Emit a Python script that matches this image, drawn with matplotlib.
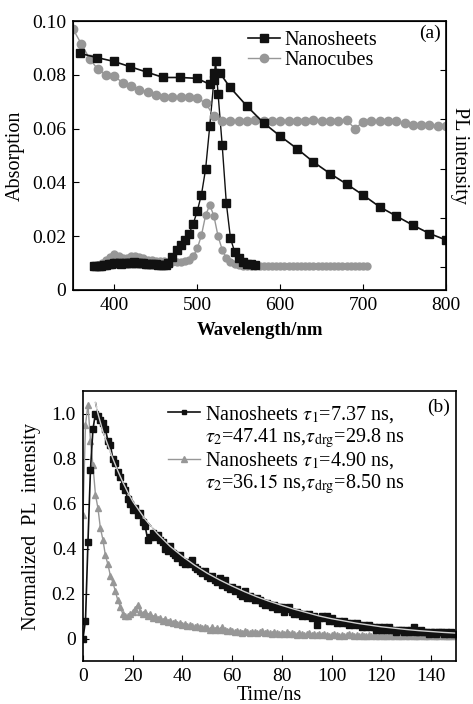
import matplotlib
matplotlib.use("Agg")
import matplotlib.pyplot as plt
from matplotlib.lines import Line2D

plt.rcParams['font.family'] = ['Liberation Serif', 'DejaVu Serif']
plt.rcParams['mathtext.fontset'] = 'stix'

# ---------------- panel (a) data ----------------
abs_sheet_wl = [358, 379, 399, 419, 439, 459, 479, 499, 515, 520, 527, 539, 560, 580, 600, 620,
                640, 660, 680, 700, 720, 740, 760, 780, 800]
abs_sheet = [0.088, 0.0864, 0.085, 0.083, 0.081, 0.079, 0.079, 0.0787, 0.0765, 0.0808, 0.0808, 0.0755,
             0.0683, 0.0621, 0.0572, 0.0526, 0.0476, 0.0433, 0.0394, 0.0353, 0.0309, 0.0275, 0.0241,
             0.021, 0.0186]

abs_cube_wl = list(range(350, 801, 10))
abs_cube = [0.097, 0.0915, 0.086, 0.082, 0.080, 0.0795, 0.077, 0.0757, 0.0745, 0.0736,
            0.0724, 0.0718, 0.0718, 0.0718, 0.0718, 0.0713, 0.0695, 0.0645, 0.063, 0.0628,
            0.063, 0.063, 0.0632, 0.063, 0.063, 0.063, 0.063, 0.063, 0.063, 0.0632,
            0.063, 0.063, 0.063, 0.0632, 0.0600, 0.0625, 0.0628, 0.0628, 0.0628, 0.0628,
            0.062, 0.0615, 0.0615, 0.0615, 0.061, 0.061]

pl_sheet_wl = [375, 378, 381, 384, 387, 390, 393, 396, 399, 402, 405, 408, 411, 414, 417, 420, 423,
               426, 429, 432, 435, 438, 441, 444, 447, 450, 453, 456, 459, 462, 465, 470, 475, 480,
               485, 490, 495, 500, 505, 510, 515, 520, 522, 525, 530, 535, 540, 545, 550, 555, 560,
               565, 570]
pl_sheet = [0.0090, 0.0090, 0.0090, 0.0091, 0.0092, 0.0093, 0.0095, 0.0097, 0.0099, 0.0100, 0.0099,
            0.0098, 0.0099, 0.0100, 0.0101, 0.0102, 0.0103, 0.0102, 0.0101, 0.0100, 0.0099, 0.0098,
            0.0097, 0.0096, 0.0095, 0.0095, 0.0094, 0.0093, 0.0093, 0.0094, 0.0100, 0.0122, 0.0148,
            0.0168, 0.0185, 0.0210, 0.0245, 0.0295, 0.0355, 0.0450, 0.0610, 0.0780, 0.0850, 0.0730,
            0.0538, 0.0322, 0.0192, 0.0142, 0.0118, 0.0105, 0.0098, 0.0095, 0.0094]

pl_cube_wl = list(range(375, 706, 5))
pl_cube = [0.0088, 0.0092, 0.0100, 0.0112, 0.0124, 0.0132, 0.0128, 0.0120, 0.0120, 0.0126, 0.0128,
           0.0124, 0.0118, 0.0113, 0.0110, 0.0108, 0.0107, 0.0106, 0.0105, 0.0104, 0.0104, 0.0104,
           0.0106, 0.0112, 0.0125, 0.0155, 0.0204, 0.0278, 0.0316, 0.0275, 0.0200, 0.0150, 0.0118,
           0.0104, 0.0097, 0.0093, 0.0090, 0.0089, 0.0088, 0.0088, 0.0088, 0.0088, 0.0088, 0.0088,
           0.0088, 0.0088, 0.0088, 0.0088, 0.0088, 0.0088, 0.0088, 0.0088, 0.0088, 0.0088, 0.0088,
           0.0088, 0.0088, 0.0088, 0.0088, 0.0088, 0.0088, 0.0088, 0.0088, 0.0088, 0.0088, 0.0088,
           0.0088]

abs_yticks = [0, 0.02, 0.04, 0.06, 0.08, 0.10]
abs_yticklabels = ['0', '0.02', '0.04', '0.06', '0.08', '0.10']
wl_ticks = [400, 500, 600, 700, 800]

# ---------------- panel (b) data ----------------
t_sheet = list(range(0, 151))
pl_decay_sheet = [0.00, 0.08, 0.43, 0.75, 0.93, 1.00, 0.99, 0.97, 0.96, 0.93,
                  0.88, 0.86, 0.80, 0.78, 0.74, 0.72, 0.68, 0.66, 0.62, 0.60,
                  0.57, 0.58, 0.55, 0.56, 0.52, 0.50, 0.44, 0.45, 0.47, 0.45,
                  0.46, 0.44, 0.43, 0.40, 0.39, 0.41, 0.38, 0.37, 0.36, 0.37,
                  0.34, 0.33, 0.34, 0.33, 0.35, 0.32, 0.31, 0.30, 0.29, 0.30,
                  0.28, 0.27, 0.28, 0.26, 0.25, 0.27, 0.24, 0.26, 0.23, 0.22,
                  0.23, 0.21, 0.22, 0.20, 0.19, 0.21, 0.18, 0.19, 0.18, 0.17,
                  0.18, 0.17, 0.16, 0.15, 0.16, 0.15, 0.14, 0.15, 0.13, 0.14,
                  0.14, 0.12, 0.13, 0.14, 0.12, 0.11, 0.12, 0.11, 0.10, 0.11,
                  0.10, 0.11, 0.09, 0.10, 0.06, 0.09, 0.10, 0.09, 0.10, 0.08,
                  0.09, 0.08, 0.07, 0.08, 0.07, 0.08, 0.07, 0.06, 0.07, 0.06,
                  0.07, 0.06, 0.05, 0.06, 0.05, 0.06, 0.05, 0.05, 0.04, 0.05,
                  0.04, 0.05, 0.04, 0.05, 0.04, 0.04, 0.03, 0.04, 0.04, 0.03,
                  0.04, 0.03, 0.04, 0.05, 0.03, 0.03, 0.04, 0.03, 0.03, 0.02,
                  0.03, 0.03, 0.02, 0.03, 0.03, 0.02, 0.03, 0.02, 0.03, 0.02,
                  0.02]

t_cube = list(range(0, 151))
pl_decay_cube = [0.55, 0.95, 1.04, 0.88, 0.77, 0.64, 0.58, 0.49, 0.44, 0.37,
                 0.33, 0.28, 0.25, 0.21, 0.17, 0.14, 0.11, 0.10, 0.10, 0.11,
                 0.12, 0.13, 0.15, 0.12, 0.11, 0.12, 0.10, 0.11, 0.09, 0.10,
                 0.085, 0.09, 0.08, 0.085, 0.075, 0.08, 0.07, 0.075, 0.065, 0.07,
                 0.06, 0.065, 0.055, 0.06, 0.055, 0.05, 0.055, 0.05, 0.045, 0.05,
                 0.045, 0.04, 0.05, 0.04, 0.045, 0.04, 0.05, 0.04, 0.035, 0.04,
                 0.035, 0.03, 0.035, 0.03, 0.025, 0.035, 0.03, 0.025, 0.03, 0.03,
                 0.025, 0.03, 0.035, 0.025, 0.03, 0.025, 0.02, 0.03, 0.025, 0.02,
                 0.025, 0.02, 0.03, 0.02, 0.025, 0.02, 0.015, 0.025, 0.02, 0.015,
                 0.02, 0.025, 0.015, 0.02, 0.015, 0.02, 0.015, 0.02, 0.015, 0.01,
                 0.015, 0.02, 0.015, 0.01, 0.015, 0.01, 0.015, 0.02, 0.015, 0.01,
                 0.015, 0.01, 0.015, 0.01, 0.01, 0.015, 0.01, 0.015, 0.01, 0.01,
                 0.015, 0.01, 0.01, 0.015, 0.01, 0.01, 0.015, 0.01, 0.01, 0.015,
                 0.01, 0.01, 0.015, 0.01, 0.01, 0.01, 0.015, 0.01, 0.01, 0.01,
                 0.015, 0.01, 0.01, 0.01, 0.015, 0.01, 0.01, 0.01, 0.01, 0.015,
                 0.01]

t_fit = [5, 6, 7, 8, 10, 12, 14, 16, 18, 20, 25, 30, 35, 40, 45, 50, 55, 60, 65, 70, 75, 80,
         85, 90, 95, 100, 105, 110, 115, 120, 125, 130, 135, 140, 145, 150]
fit_sheet = [1.05, 1.00, 0.96, 0.92, 0.86, 0.80, 0.745, 0.695, 0.65, 0.61, 0.53, 0.465, 0.41,
             0.365, 0.325, 0.29, 0.26, 0.233, 0.208, 0.185, 0.165, 0.147, 0.13, 0.115, 0.10,
             0.088, 0.078, 0.068, 0.06, 0.052, 0.046, 0.04, 0.035, 0.031, 0.027, 0.024]

pl_yticks = [0, 0.2, 0.4, 0.6, 0.8, 1.0]
pl_yticklabels = ['0', '0.2', '0.4', '0.6', '0.8', '1.0']
t_ticks = [0, 20, 40, 60, 80, 100, 120, 140]

BLACK = '#111111'
GRAY = '#979797'
FS = 14

fig = plt.figure(figsize=(4.73, 7.04), dpi=100)

# ---------------- panel (a) ----------------
ax = fig.add_axes([73 / 473, 1 - 290 / 704, 373 / 473, 269 / 704])
ax.plot(pl_cube_wl, pl_cube, '-o', color=GRAY, ms=5, lw=1.0, mec=GRAY)
ax.plot(pl_sheet_wl, pl_sheet, '-s', color=BLACK, ms=5.5, lw=1.0)
ax.plot(abs_cube_wl, abs_cube, '-o', color=GRAY, ms=6, lw=1.0, mec=GRAY)
ax.plot(abs_sheet_wl, abs_sheet, '-s', color=BLACK, ms=6, lw=1.2)

ax.set_xlim(350, 800)
ax.set_ylim(0, 0.10)
ax.set_xticks(wl_ticks)
ax.set_yticks(abs_yticks)
ax.set_yticklabels(abs_yticklabels)
ax.tick_params(direction='in', length=4, labelsize=FS, pad=5, top=False)
ax.set_xlabel('Wavelength/nm', fontsize=13.5, fontweight='bold', labelpad=6)
ax.set_ylabel('Absorption', fontsize=14.5, labelpad=5)

ax2 = ax.twinx()
ax2.set_ylim(-0.47, 5.0)
ax2.set_yticks([0, 1, 2, 3, 4])
ax2.set_yticklabels([])
ax2.tick_params(direction='in', length=4)
ax2.set_ylabel('PL intensity', fontsize=14.5, rotation=270, labelpad=13)

h1 = Line2D([], [], color=BLACK, marker='s', ms=6, lw=1.2)
h2 = Line2D([], [], color=GRAY, marker='o', ms=6, lw=1.0)
ax.legend([h1, h2], ['Nanosheets', 'Nanocubes'], loc='upper left',
          bbox_to_anchor=(0.42, 1.03), frameon=False, fontsize=14.5,
          handlelength=1.6, handletextpad=0.2, labelspacing=0.05)
ax.text(0.985, 0.985, '(a)', transform=ax.transAxes, ha='right', va='top', fontsize=FS)
for s in ax.spines.values():
    s.set_linewidth(1.2)

# ---------------- panel (b) ----------------
bx = fig.add_axes([83 / 473, 1 - 661 / 704, 373 / 473, 270 / 704])
bx.plot(t_cube, pl_decay_cube, '-^', color=GRAY, ms=4.5, lw=1.0, mec=GRAY)
bx.plot(t_sheet, pl_decay_sheet, '-s', color=BLACK, ms=5, lw=1.2)
bx.plot(t_fit, fit_sheet, '--', color=BLACK, lw=1.0)
bx.plot(t_fit, fit_sheet, '-', color='#d0d0d0', lw=1.0)

bx.set_xlim(0, 150)
bx.set_ylim(-0.1, 1.1)
bx.set_xticks(t_ticks)
bx.set_yticks(pl_yticks)
bx.set_yticklabels(pl_yticklabels)
bx.tick_params(direction='in', length=4, labelsize=FS, pad=5)
bx.set_xlabel('Time/ns', fontsize=14.5, labelpad=1)
bx.set_ylabel('Normalized  PL  intensity', fontsize=14.5, labelpad=8)

hb1 = Line2D([], [], color=BLACK, marker='s', ms=3.5, lw=1.2)
hb2 = Line2D([], [], color=GRAY, marker='^', ms=4, lw=1.0)
blank = Line2D([], [], lw=0, marker=None)
labels_b = [r'Nanosheets $\tau_1$=7.37 ns,',
            r'$\tau_2$=47.41 ns,$\tau_{\rm drg}$=29.8 ns',
            r'Nanosheets $\tau_1$=4.90 ns,',
            r'$\tau_2$=36.$\mathit{15}$ ns,$\tau_{\rm drg}$=8.50 ns']
bx.legend([hb1, blank, hb2, blank], labels_b, loc='upper left',
          bbox_to_anchor=(0.18, 1.02), frameon=False, fontsize=14.5,
          handlelength=1.6, handletextpad=0.2, labelspacing=0.05)
bx.text(0.985, 0.97, '(b)', transform=bx.transAxes, ha='right', va='top', fontsize=FS)
for s in bx.spines.values():
    s.set_linewidth(1.2)

fig.savefig('out.png', dpi=100)
